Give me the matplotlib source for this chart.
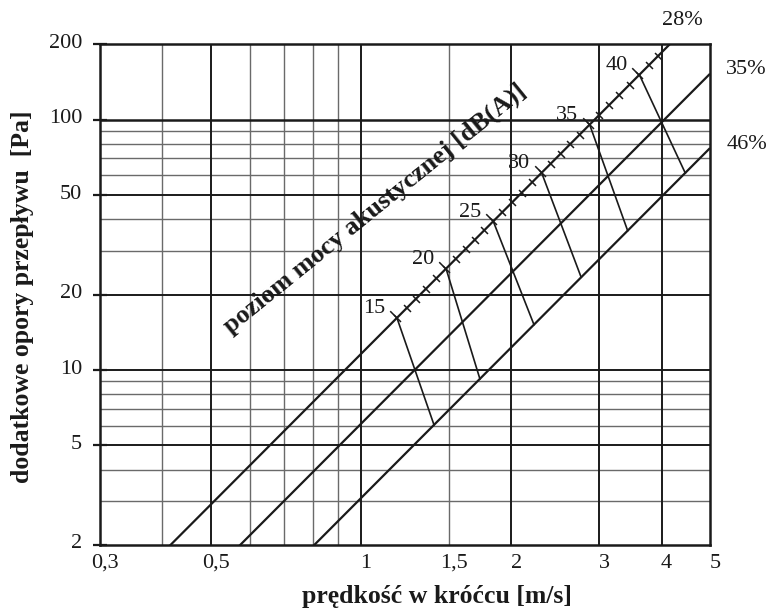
import numpy as np
import matplotlib
matplotlib.use("Agg")
import matplotlib.pyplot as plt
from matplotlib.path import Path
from matplotlib.transforms import ScaledTranslation
from matplotlib.ticker import FixedLocator, FixedFormatter, NullFormatter

plt.rcParams["font.family"] = ["Liberation Serif", "DejaVu Serif"]

# Fan efficiency lines: pressure loss dp = k * v^2
efficiency_labels = ["28%", "35%", "46%"]
efficiency_coeffs = [11.6, 6.1, 3.08]

# Sound power scale [dB(A)] along the 28% line: velocity of every 1 dB step
db_levels = list(range(15, 43))
db_velocity = [1.18, 1.235, 1.29, 1.35, 1.415, 1.48, 1.55, 1.62, 1.69, 1.765,
               1.84, 1.92, 2.01, 2.10, 2.20, 2.30, 2.40, 2.51, 2.62, 2.74,
               2.87, 3.00, 3.14, 3.29, 3.45, 3.61, 3.77, 3.94]

# Labelled 5 dB steps and where their iso-lines meet the 46% line
db_major = [15, 20, 25, 30, 35, 40]
db_major_end_velocity = [1.40, 1.73, 2.22, 2.76, 3.42, 4.46]

# Axis ticks and grid
x_ticks = [0.3, 0.5, 1, 1.5, 2, 3, 4, 5]
x_tick_labels = ["0,3", "0,5", "1", "1,5", "2", "3", "4", "5"]
y_ticks = [2, 5, 10, 20, 50, 100, 200]
y_tick_labels = ["2", "5", "10", "20", "50", "100", "200"]
x_grid_major = [0.5, 1, 2, 3, 4]
x_grid_minor = [0.4, 0.6, 0.7, 0.8, 0.9, 1.5]
y_grid_major = [5, 10, 20, 50, 100]
y_grid_minor = [3, 4, 6, 7, 8, 9, 30, 40, 60, 70, 80, 90]

fig = plt.figure(figsize=(7.71, 6.14), dpi=100)
ax = fig.add_axes([100 / 771, 1 - 545 / 614, 610 / 771, 500.7 / 614])
ax.set_xscale("log")
ax.set_yscale("log")
ax.set_xlim(0.3, 5)
ax.set_ylim(2, 200)

ink = "#1a1a1a"
# grid
for xv in x_grid_minor:
    ax.axvline(xv, color="#6a6a6a", lw=1.0, zorder=1)
for yv in y_grid_minor:
    ax.axhline(yv, color="#6a6a6a", lw=1.0, zorder=1)
for xv in x_grid_major:
    ax.axvline(xv, color=ink, lw=1.4, zorder=1.2)
for yv in y_grid_major:
    ax.axhline(yv, color=ink, lw=1.4 if yv != 100 else 1.8, zorder=1.2)

for s in ax.spines.values():
    s.set_linewidth(1.8)
    s.set_color(ink)

# efficiency lines
v_span = np.array([0.3, 5.0])
for k in efficiency_coeffs:
    ax.plot(v_span, k * v_span ** 2, color=ink, lw=1.6, zorder=3, solid_capstyle="butt")

k_top = efficiency_coeffs[0]
k_low = efficiency_coeffs[-1]

# iso-dB lines from the 28% line down to the 46% line
mv = np.array([db_velocity[db_levels.index(d)] for d in db_major])
for v0, v1 in zip(mv, db_major_end_velocity):
    ax.plot([v0, v1], [k_top * v0 ** 2, k_low * v1 ** 2], color=ink, lw=1.2, zorder=3)

# 1 dB tick marks crossing the scale line
cross = Path([(-1, 1), (1, -1)], [Path.MOVETO, Path.LINETO])
dv = np.array(db_velocity)
ax.plot(dv, k_top * dv ** 2, ls="none", marker=cross, markersize=5.0,
        mec=ink, mew=1.1, zorder=4, clip_on=False)

# longer marks on the upper side at every labelled step
upper = Path([(0, 0), (-1, 1)], [Path.MOVETO, Path.LINETO])
ax.plot(mv, k_top * mv ** 2, ls="none", marker=upper, markersize=10.5,
        mec=ink, mew=1.1, zorder=4, clip_on=False)

for d, v in zip(db_major, mv):
    ax.annotate(str(d), (v, k_top * v ** 2), xytext=(-8.5, 6.5),
                textcoords="offset points", ha="right", va="center",
                fontsize=16, color=ink, zorder=5)

# scale title along the 28% line
ax.text(1.067, 43.9, "poziom mocy akustycznej [dB(A)]", rotation=39,
        rotation_mode="anchor", ha="center", va="center",
        fontsize=19, fontweight="bold", color=ink, zorder=5)

# efficiency labels
ax.text(4.40, 249, efficiency_labels[0], ha="center", va="center",
        fontsize=16, color=ink, clip_on=False)
ax.text(1.060, 0.9487, efficiency_labels[1], transform=ax.transAxes,
        ha="center", va="center", fontsize=16, color=ink, clip_on=False)
ax.text(1.060, 0.7989, efficiency_labels[2], transform=ax.transAxes,
        ha="center", va="center", fontsize=16, color=ink, clip_on=False)

# ticks
ax.xaxis.set_major_locator(FixedLocator(x_ticks))
ax.xaxis.set_major_formatter(FixedFormatter(x_tick_labels))
ax.xaxis.set_minor_locator(FixedLocator([0.3]))
ax.xaxis.set_minor_formatter(NullFormatter())
ax.yaxis.set_major_locator(FixedLocator(y_ticks))
ax.yaxis.set_major_formatter(FixedFormatter(y_tick_labels))
ax.yaxis.set_minor_locator(FixedLocator([]))
ax.tick_params(axis="x", which="major", length=0, pad=6.5, labelsize=16, labelcolor=ink)
ax.tick_params(axis="x", which="minor", direction="inout", length=9, width=1.8, color=ink)
ax.tick_params(axis="y", which="major", direction="inout", length=9.5, width=1.6,
               color=ink, pad=8, labelsize=16, labelcolor=ink)

# nudge tick labels slightly (x to the right, y upward)
shift_x = ScaledTranslation(5 / 100, 0, fig.dpi_scale_trans)
shift_y = ScaledTranslation(0, 3.5 / 100, fig.dpi_scale_trans)
for lab in ax.get_xticklabels():
    lab.set_transform(lab.get_transform() + shift_x)
for lab in ax.get_yticklabels():
    lab.set_transform(lab.get_transform() + shift_y)

ax.set_xlabel("prędkość w króćcu [m/s]", fontsize=18.5, fontweight="bold", color=ink,
              va="center")
ax.xaxis.set_label_coords(0.5525, -0.1019)
ax.set_ylabel("dodatkowe opory przepływu  [Pa]", fontsize=18.5, fontweight="bold",
              color=ink, va="center")
ax.yaxis.set_label_coords((23 - 100) / 610, 0.495)

fig.savefig("out.png", dpi=100)
